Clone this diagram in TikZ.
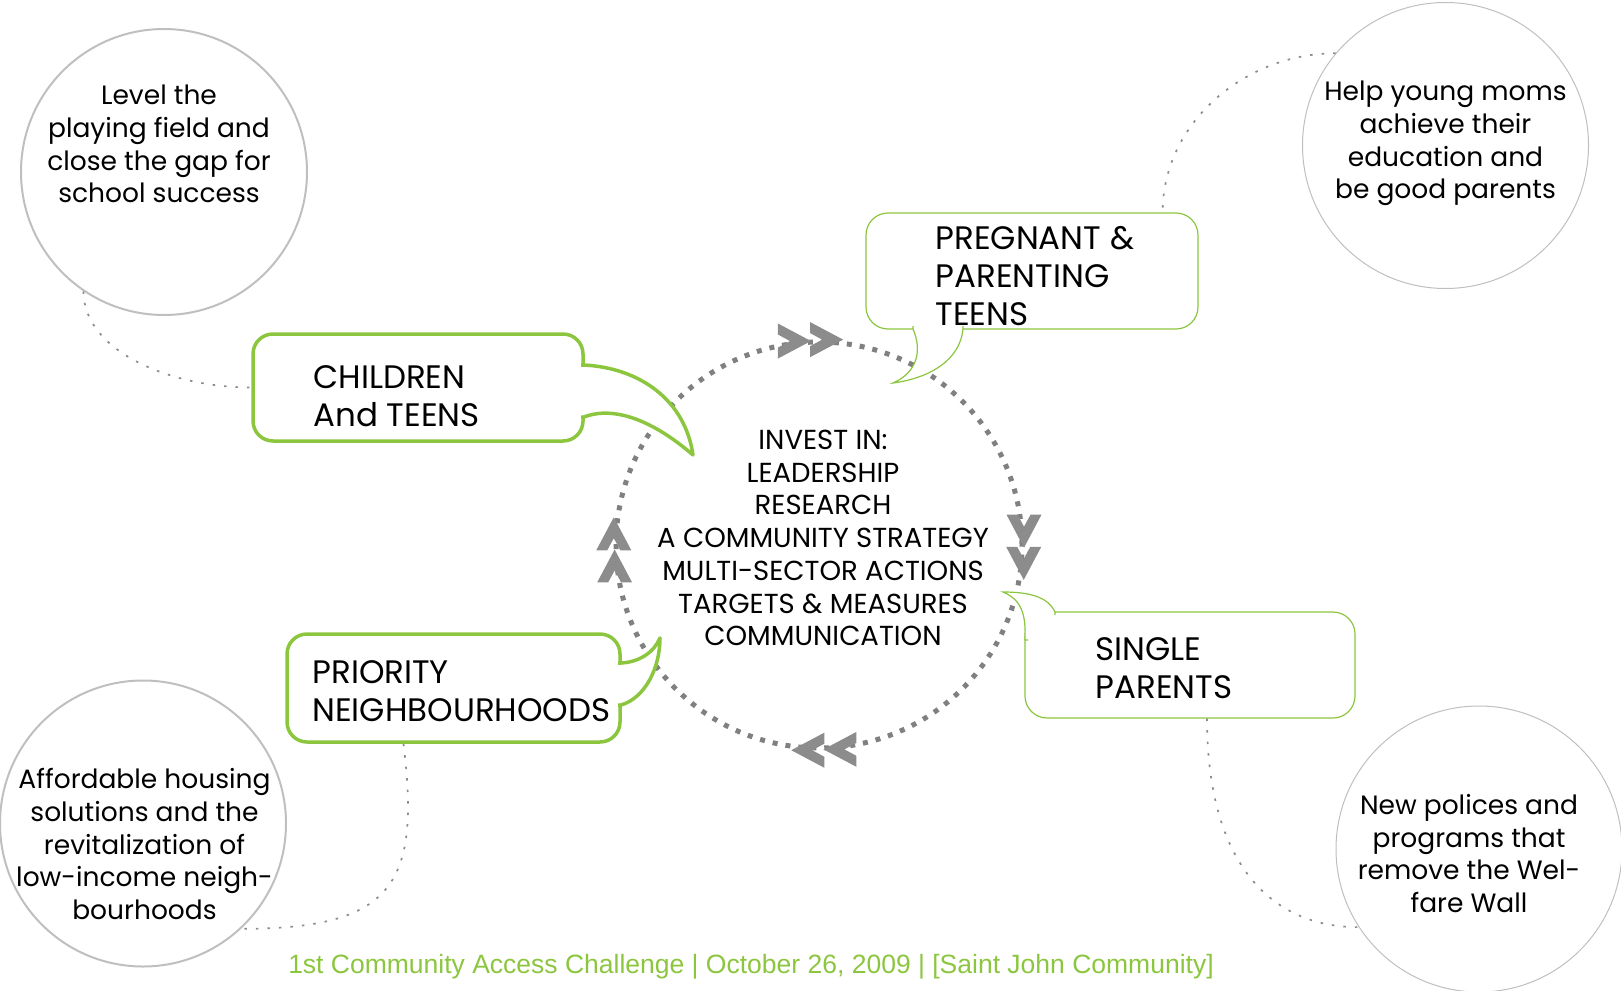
\documentclass[tikz,border=0pt]{standalone}
\usepackage{fontspec}
\setmainfont{Poppins}
\newfontfamily\footerfont{Liberation Sans}
\usetikzlibrary{positioning}
\definecolor{bubblegreen}{RGB}{140,198,63}
\definecolor{ringgray}{RGB}{128,128,128}
\definecolor{chevgray}{RGB}{140,140,140}
\definecolor{goalgray}{RGB}{191,191,191}
\definecolor{linkgray}{RGB}{140,140,140}
\tikzset{
    bubble-thick/.style = {draw=bubblegreen, fill=white, line width=3.5pt, rectangle, rounded corners=20pt, inner sep=0pt},
    bubble-thin/.style = {draw=bubblegreen, fill=white, line width=1.2pt, rectangle, rounded corners=22pt, inner sep=0pt},
    tail-thick/.style = {draw=bubblegreen, fill=white, line width=3.5pt, line join=round},
    tail-thin/.style = {draw=bubblegreen, fill=white, line width=1.2pt},
    bubble-text/.style = {inner sep=0pt, align=left, font=\fontsize{32.5}{38}\selectfont},
    goal-circle/.style = {draw=goalgray, circle, minimum size=286pt, inner sep=0pt},
    goal-text/.style = {inner sep=0pt, align=center, font=\fontsize{26.5}{32.7}\selectfont},
    ring-circle/.style = {draw=ringgray, circle, line width=5pt, dash pattern=on 5pt off 8pt, minimum size=406pt, inner sep=0pt},
    link/.style = {draw=linkgray, line width=1.7pt, dash pattern=on 2.5pt off 9pt},
    ring-chevron/.pic = {\fill[chevgray] (-16,-17.5) -- (17,0) -- (-16,17.5) -- (-16,6.5) -- (-4,0) -- (-16,-6.5) -- cycle;},
}

\begin{document}
\begin{tikzpicture}[x=1pt, y=-1pt]
\useasboundingbox (0,0) rectangle (1621,990);

% the ring in the middle
\node[ring-circle] (ring) at (819,545) {};
\pic at (ring.97) {ring-chevron};
\pic at (ring.88) {ring-chevron};
\pic[rotate=-90] at (ring.4) {ring-chevron};
\pic[rotate=-90] at (ring.-5) {ring-chevron};
\pic[rotate=180] at (ring.276.5) {ring-chevron};
\pic[rotate=180] at (ring.267.2) {ring-chevron};
\pic[rotate=90] at (ring.186.5) {ring-chevron};
\pic[rotate=90] at (ring.177.2) {ring-chevron};
\node[goal-text, font=\fontsize{27.5}{32.7}\selectfont] (invest) at ([xshift=4pt,yshift=7pt]ring.center) {INVEST IN:\\LEADERSHIP\\RESEARCH\\A COMMUNITY STRATEGY\\MULTI-SECTOR ACTIONS\\TARGETS \& MEASURES\\COMMUNICATION};

% speech bubbles
\node[bubble-thick, minimum width=330pt, minimum height=107pt] (children-box) at (418,387.5) {};
\filldraw[tail-thick] (581,365) -- (584,365) .. controls (640,368) and (685,400) .. (693,455) .. controls (655,422) and (615,405) .. (584,417) -- (581,417);
\node[bubble-text, right=62pt of children-box.west, yshift=-8.5pt] (children) {CHILDREN\\And TEENS};

\node[bubble-thin, minimum width=332pt, minimum height=116pt] (pregnant-box) at (1032,271) {};
\filldraw[tail-thin] (913,326) -- (913,329) .. controls (922,350) and (918,372) .. (893,383) .. controls (930,378) and (960,360) .. (963,329) -- (963,326);
\node[bubble-text, right=70pt of pregnant-box.west, yshift=-5.5pt] (pregnant) {PREGNANT \&\\PARENTING\\TEENS};

\node[bubble-thick, minimum width=333pt, minimum height=108pt] (priority-box) at (453.5,688) {};
\filldraw[tail-thick] (618,663) -- (621,663) .. controls (640,662) and (654,652) .. (660,638) .. controls (660,668) and (645,698) .. (621,705) -- (618,705);
\node[bubble-text, right=27pt of priority-box.west, yshift=-3pt] (priority) {PRIORITY\\NEIGHBOURHOODS};

\node[bubble-thin, minimum width=330pt, minimum height=106pt] (single-box) at (1190,665) {};
\filldraw[tail-thin] (1055,615) -- (1055,612) .. controls (1048,597) and (1030,592) .. (1003,592) .. controls (1022,600) and (1026,615) .. (1025,640) -- (1028,640);
\node[bubble-text, right=71pt of single-box.west, yshift=-3pt] (single) {SINGLE\\PARENTS};

% goal circles
\node[goal-circle, line width=2pt] (school-goal) at (164,172) {};
\node[goal-text] (school) at ([xshift=-5pt,yshift=28pt]school-goal.center) {Level the\\playing field and\\close the gap for\\school success};
\node[goal-circle, line width=1pt] (moms-goal) at (1445.5,145.5) {};
\node[goal-text] (moms) at ([yshift=2pt]moms-goal.center) {Help young moms\\achieve their\\education and\\be good parents};
\node[goal-circle, line width=2pt] (housing-goal) at (143,823.5) {};
\node[goal-text] (housing) at ([xshift=1.5pt,yshift=-20.5pt]housing-goal.center) {Affordable housing\\solutions and the\\revitalization of\\low-income neigh-\\bourhoods};
\node[goal-circle, line width=1pt] (welfare-goal) at (1479,849) {};
\node[goal-text] (welfare) at ([xshift=-10pt,yshift=-4.5pt]welfare-goal.center) {New polices and\\programs that\\remove the Wel-\\fare Wall};

% dotted links
\draw[link] (school-goal.236) .. controls +(0,60) and +(-80,0) .. (children-box.west);
\draw[link] (moms-goal.140) .. controls +(-90,0) and +(0,-90) .. ([xshift=-36pt]pregnant-box.north east);
\draw[link] ([xshift=-50pt]priority-box.south) .. controls +(17,140) and +(153,0) .. (housing-goal.313);
\draw[link] ([xshift=17pt]single-box.south) .. controls +(0,142) and +(-90,0) .. (welfare-goal.213);

\node[font=\footerfont\fontsize{26.5}{30}\selectfont, text=bubblegreen, anchor=base, inner sep=0pt] (footer) at (751,973) {1st Community Access Challenge | October 26, 2009 | [Saint John Community]};
\end{tikzpicture}
\end{document}
